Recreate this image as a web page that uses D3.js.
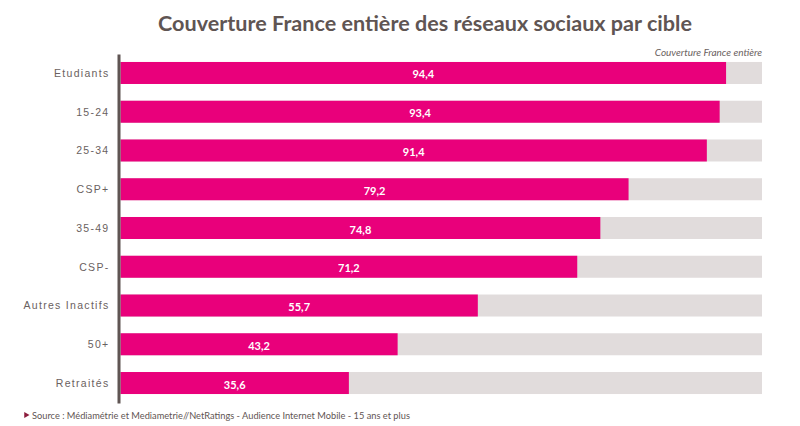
<!DOCTYPE html>
<html>
<head>
<meta charset="utf-8">
<script src="https://cdn.jsdelivr.net/npm/d3@7"></script>
<style>
  html, body { margin: 0; padding: 0; background: #fff; }
  svg { display: block; font-family: Lato, sans-serif; }
  .title { font-size: 21.6px; font-weight: 700; fill: #5f5553; }
  .note { font-size: 10px; font-style: italic; fill: #6a6160; }
  .source { font-size: 9.25px; fill: #5f5553; }
  .value { font-size: 11px; font-weight: 700; fill: #fff; }
  .tick text { font-size: 10.5px; letter-spacing: 1.3px; fill: #6a6160; }
</style>
</head>
<body>
<script>
// Data
var categories = ["Etudiants", "15-24", "25-34", "CSP+", "35-49", "CSP-", "Autres Inactifs", "50+", "Retraités"];
var values = [94.4, 93.4, 91.4, 79.2, 74.8, 71.2, 55.7, 43.2, 35.6];
var total = 100;

var width = 800, height = 426;
var pink = "#e9007b", grey = "#e1dcdc", axisColor = "#5f5553";

var svg = d3.select("body").append("svg")
    .attr("width", width)
    .attr("height", height);

var x = d3.scaleLinear().domain([0, total]).range([120.5, 762]);
var y = d3.scaleBand().domain(categories).range([53.6, 402.4]).paddingInner(0.432).paddingOuter(0.216);

// Title
svg.append("text").attr("class", "title")
    .attr("x", 425).attr("y", 31)
    .attr("text-anchor", "middle")
    .text("Couverture France entière des réseaux sociaux par cible");

svg.append("text").attr("class", "note")
    .attr("x", 762).attr("y", 55.5)
    .attr("text-anchor", "end")
    .text("Couverture France entière");

// Bars
svg.selectAll(".bg").data(categories).enter().append("rect")
    .attr("class", "bg")
    .attr("x", x(0))
    .attr("y", function(d){ return y(d); })
    .attr("width", x(total) - x(0))
    .attr("height", y.bandwidth())
    .attr("fill", grey);

svg.selectAll(".bar").data(values).enter().append("rect")
    .attr("class", "bar")
    .attr("x", x(0))
    .attr("y", function(d, i){ return y(categories[i]); })
    .attr("width", function(d){ return x(d) - x(0); })
    .attr("height", y.bandwidth())
    .attr("fill", pink);

svg.selectAll(".value").data(values).enter().append("text")
    .attr("class", "value")
    .attr("x", function(d){ return (x(0) + x(d)) / 2; })
    .attr("y", function(d, i){ return y(categories[i]) + y.bandwidth() / 2 + 5.5; })
    .attr("text-anchor", "middle")
    .text(function(d){ return String(d).replace(".", ","); });

// Axis
var axis = svg.append("g")
    .attr("transform", "translate(118.5,0.5)")
    .call(d3.axisLeft(y).tickSize(0).tickPadding(9));
axis.select(".domain").attr("stroke", axisColor).attr("stroke-width", 3);

// Source
svg.append("path")
    .attr("d", d3.symbol(d3.symbolTriangle, 16))
    .attr("transform", "translate(26,415) rotate(90)")
    .attr("fill", "#8c1c3c");

svg.append("text").attr("class", "source")
    .attr("x", 32).attr("y", 418.5)
    .text("Source : Médiamétrie et Mediametrie//NetRatings - Audience Internet Mobile - 15 ans et plus");
</script>
</body>
</html>
